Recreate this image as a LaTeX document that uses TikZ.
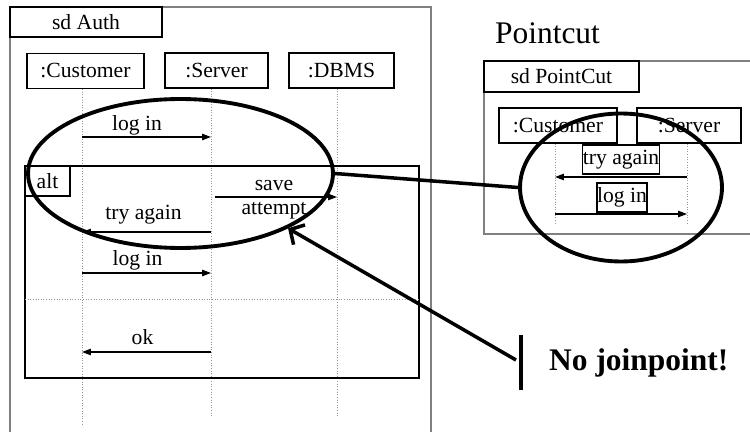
\documentclass[tikz,border=0pt]{standalone}
\usepackage{fontspec}
\setmainfont{Liberation Serif}
\usepackage{tikz}
\usetikzlibrary{arrows.meta,shapes.geometric,positioning}
\definecolor{sdgray}{RGB}{128,128,128}
\definecolor{lifegray}{RGB}{150,150,150}
\tikzstyle{frame} = [draw=sdgray, line width=1.1pt]
\tikzstyle{tab} = [draw, line width=0.6pt, inner sep=0pt]
\tikzstyle{role} = [draw, line width=0.6pt, inner sep=0pt, minimum height=0.7cm]
\tikzstyle{lifeline} = [draw=lifegray, densely dotted, line width=0.5pt]
\tikzstyle{msg} = [line width=0.6pt, -{Triangle[length=5pt,width=3.6pt]}]
\tikzstyle{ring} = [draw, ellipse, line width=2.2pt, inner sep=0pt]
\tikzstyle{link} = [line width=2pt]
\tikzstyle{pointer} = [line width=2pt, -{Straight Barb[length=6pt,width=13pt]}]

\begin{document}
\begin{tikzpicture}[x=0.02cm, y=-0.02cm, font=\fontsize{12.3}{13.6}\selectfont]
\useasboundingbox (0,0) rectangle (750,432);

% Auth diagram
\draw[frame] (10,7) rectangle (431,445);
\node[tab, minimum width=3.04cm, minimum height=0.6cm] (authtab) at (86,22) {sd Auth};

\node[role, minimum width=2.34cm] (cust) at (85.5,71) {:Customer};
\node[role, minimum width=2.06cm] (serv) at (216.5,70.5) {:Server};
\node[role, minimum width=2.1cm] (dbms) at (341.5,70.5) {:DBMS};

% Lifelines
\coordinate (cl) at (82,424);
\coordinate (sl) at (211,417);
\coordinate (dl) at (337,417);
\draw[lifeline] (cl |- cust.south) -- (cl);
\draw[lifeline] (sl |- serv.south) -- (sl);
\draw[lifeline] (dl |- dbms.south) -- (dl);

% alt fragment
\draw[line width=0.6pt] (25,166) rectangle (419,378);
\node[tab, minimum width=0.9cm, minimum height=0.6cm] (alttab) at (47.5,181) {alt};
\draw[lifeline] (25,299) -- (419,299);

% Messages
\coordinate (m1) at (0,137);
\coordinate (m2) at (0,197);
\coordinate (m3) at (0,232);
\coordinate (m4) at (0,273);
\coordinate (m5) at (0,352);
\draw[msg] (cl |- m1) -- (sl |- m1);
\node (login) at (137,125) {log in};
\draw[msg] ([xshift=0.08cm]sl |- m2) -- (dl |- m2);
\node[align=center] (save) at (274,200) {save\\attempt};
\draw[msg] (sl |- m3) -- (cl |- m3);
\node (retry) at (143.5,215) {try again};
\draw[msg] (cl |- m4) -- (sl |- m4);
\node (relogin) at (137.5,260) {log in};
\draw[msg] (sl |- m5) -- (cl |- m5);
\node (ok) at (142.5,337) {ok};

% Pointcut diagram
\node[font=\fontsize{17.9}{20}\selectfont] (pctitle) at (547.5,33) {Pointcut};
\draw[frame] (484,61) rectangle (770,234);
\node[tab, minimum width=3.1cm, minimum height=0.62cm] (pctab) at (561.5,76.5) {sd PointCut};

\node[role, minimum width=2.36cm] (pcust) at (558,125.5) {:Customer};
\node[role, minimum width=2.08cm] (pserv) at (689,125.5) {:Server};
\coordinate (pcl) at (555,224);
\coordinate (psl) at (687,224);
\draw[lifeline] (pcl |- pcust.south) -- (pcl);
\draw[lifeline] (psl |- pserv.south) -- (psl);

\node[tab, minimum width=1.52cm, minimum height=0.58cm] (ptry) at (621,159.5) {try again};
\node[tab, minimum width=1.0cm, minimum height=0.58cm] (plog) at (622,197.5) {log in};
\coordinate (p1) at (0,177);
\coordinate (p2) at (0,214);
\draw[msg] (psl |- p1) -- (pcl |- p1);
\draw[msg] (pcl |- p2) -- (psl |- p2);

% Match rings
\node[ring, minimum width=6.1cm, minimum height=2.98cm] (bigring) at (180.5,173.5) {};
\node[ring, minimum width=4.04cm, minimum height=2.96cm] (smallring) at (621,187.5) {};
\draw[link] (bigring.east) -- (smallring.west);

% Note
\coordinate (bartop) at (521,335);
\coordinate (barbot) at (521,390);
\coordinate (tail) at (516,360);
\draw[line width=2.2pt] (bartop) -- (barbot);
\node[font=\bfseries\fontsize{17.9}{20}\selectfont, anchor=west] (note) at (543,363) {No joinpoint!};
\draw[pointer] (tail) -- (bigring.-27);
\end{tikzpicture}
\end{document}
